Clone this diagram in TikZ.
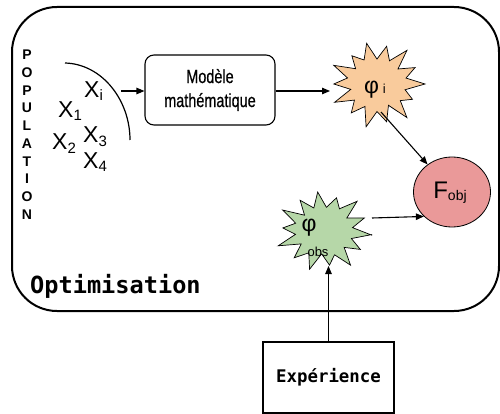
\documentclass[tikz,border=0pt]{standalone}
\usepackage{fontspec}
\setmainfont{Liberation Sans}
\newfontfamily\monob{DejaVu Sans Mono}
\newfontfamily\cond[FakeStretch=0.76,FakeBold=0.6]{Liberation Sans}
\usetikzlibrary{arrows.meta,shapes.geometric,calc}
\definecolor{orangef}{HTML}{F9CB9C}
\definecolor{greenf}{HTML}{B6D7A8}
\definecolor{redf}{HTML}{EA9999}
\newcommand{\xlab}[1]{\fontsize{23}{23}\selectfont X\raisebox{-3pt}{\fontsize{15}{15}\selectfont #1}}
\begin{document}
\begin{tikzpicture}[x=1pt,y=-1pt,
  >={Triangle[length=8pt,width=6.5pt]},
  conn/.style={->,line width=1.1pt},
  xnode/.style={anchor=base west,inner sep=0pt},
  popl/.style={inner sep=0pt,font=\bfseries\fontsize{14}{14}\selectfont},
  burstline/.style={draw=black,line width=0.7pt,line join=miter},
  mono/.style={font=\monob\bfseries}]
\useasboundingbox (0,0) rectangle (500,414);
% big container
\draw[line width=2pt,rounded corners=45pt] (12,7) rectangle (499,311);
\node[anchor=base west,inner sep=0pt,font=\monob\bfseries\fontsize{23.6}{24}\selectfont] (optim) at (30,293) {Optimisation};
% population
\foreach \l [count=\i] in {P,O,P,U,L,A,T,I,O,N}
  \node[popl] (pop\i) at (27,{55+17.7*(\i-1)}) {\l};
\draw[line width=1.2pt] (65,63) .. controls (102,64) and (130,100) .. (130,140);
\node[xnode] (xi) at (84,98) {\xlab{i}};
\node[xnode] (x1) at (58,118) {\xlab{1}};
\node[xnode] (x2) at (52,150) {\xlab{2}};
\node[xnode] (x3) at (83,143) {\xlab{3}};
\node[xnode] (x4) at (83,168) {\xlab{4}};
\coordinate (popout) at (121,91);
% model
\node[draw,line width=1.1pt,rounded corners=9pt,minimum width=130pt,minimum height=70pt,align=center,
  font=\cond\fontsize{19}{24}\selectfont] (model) at (210,90) {Modèle\\mathématique};
\draw[conn] (popout) -- (model.west |- popout);
% phi i star
\coordinate (phiic) at (377,84);
\filldraw[burstline,fill=orangef] ($(phiic)+(0:48)$)
  \foreach \i/\f/\g in {0/1.0/0.6,1/0.82/0.62,2/1.0/0.55,3/0.9/0.64,4/1.02/0.58,5/0.86/0.6,6/0.98/0.56,7/0.9/0.63,8/1.0/0.57,9/0.84/0.62,10/0.97/0.58,11/0.9/0.6,12/1.0/0.56,13/0.88/0.62}
  { -- ($(phiic)+({\i*25.714}:{48*\f} and {43*\f})$) -- ($(phiic)+({\i*25.714+12.857}:{48*\g} and {43*\g})$) } -- cycle;
\node[inner sep=0pt,minimum width=95pt,minimum height=86pt] (phii) at (phiic) {};
\node[inner sep=0pt] (phiitxt) at (375,90) {\fontsize{23}{23}\selectfont φ\,\fontsize{13}{13}\selectfont i};
\coordinate (phiiin) at (330,91);
\draw[conn] (model.east |- phiiin) -- (phiiin);
% F obj
\node[ellipse,draw,line width=0.8pt,fill=redf,minimum width=77pt,minimum height=70pt] (fobj) at (452,192) {};
\node[inner sep=0pt] (fobjtxt) at (450,193) {\fontsize{24}{24}\selectfont F\fontsize{14}{14}\selectfont\raisebox{-2pt}{obj}};
\coordinate (phiiout) at (381,112);
\draw[conn] (phiiout) -- (fobj);
% phi obs star
\coordinate (phiobsc) at (324,231);
\filldraw[burstline,fill=greenf] ($(phiobsc)+(5:48)$)
  \foreach \i/\f/\g in {0/1.0/0.6,1/0.88/0.58,2/1.0/0.62,3/0.84/0.56,4/0.98/0.62,5/0.9/0.57,6/1.02/0.6,7/0.86/0.62,8/1.0/0.56,9/0.9/0.6,10/0.96/0.58,11/0.85/0.63,12/1.0/0.57,13/0.9/0.6}
  { -- ($(phiobsc)+({\i*25.714+5}:{48*\f} and {41*\f})$) -- ($(phiobsc)+({\i*25.714+17.857}:{48*\g} and {41*\g})$) } -- cycle;
\node[inner sep=0pt,minimum width=95pt,minimum height=82pt] (phiobs) at (phiobsc) {};
\node[inner sep=0pt] (phiobsphi) at (309,228) {\fontsize{23}{23}\selectfont φ};
\node[inner sep=0pt] (phiobssub) at (318,252) {\fontsize{13}{13}\selectfont obs};
\coordinate (phiobsout) at (372,218);
\draw[conn] (phiobsout) -- (fobj.221);
% experience
\node[draw,line width=1.1pt,minimum width=131pt,minimum height=71pt,font=\monob\bfseries\fontsize{17.4}{18}\selectfont] (exp) at (328.5,377.5) {Expérience};
\coordinate (phiobsin) at (328.5,266);
\draw[conn] (exp.north) -- (phiobsin);
\end{tikzpicture}
\end{document}
